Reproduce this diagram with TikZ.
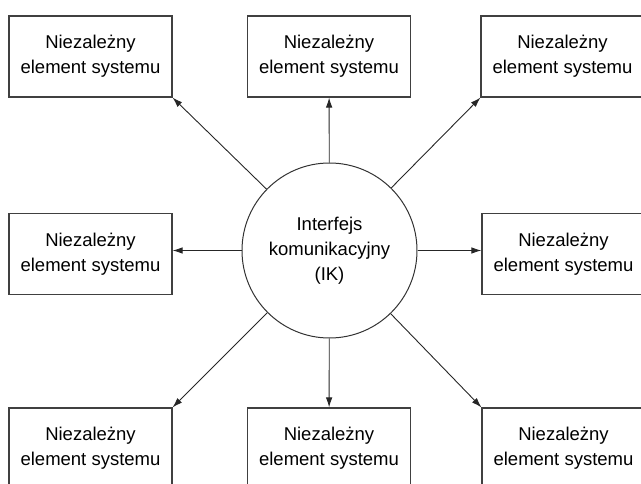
\documentclass[tikz,border=0pt]{standalone}
\usepackage{fontspec}
\setmainfont{Liberation Sans}
\usetikzlibrary{arrows.meta}
\tikzset{
    element/.style={draw=black!75, line width=1.1pt, minimum width=163pt, minimum height=81pt,
        align=center, font=\fontsize{18.5}{25}\selectfont},
    iface/.style={draw=black!80, line width=1pt, circle, minimum size=175pt, inner sep=0pt,
        align=center, font=\fontsize{18.5}{25}\selectfont},
    link/.style={draw=black!85, line width=0.9pt, -{Latex[length=10pt, width=6.5pt]}}
}
\begin{document}
\begin{tikzpicture}[x=1pt, y=-1pt]
        \useasboundingbox (0, 0) rectangle (641, 484);
        \node[iface] (ik) at (329.5, 250.5) {Interfejs\\komunikacyjny\\(IK)};
        \node[element] (tl) at (90.5, 56.5) {Niezależny\\element systemu};
        \node[element] (tm) at (329, 56.5) {Niezależny\\element systemu};
        \node[element] (tr) at (562.5, 56.5) {Niezależny\\element systemu};
        \node[element] (ml) at (90.5, 254) {Niezależny\\element systemu};
        \node[element] (mr) at (563.5, 254) {Niezależny\\element systemu};
        \node[element] (bl) at (90.5, 448.5) {Niezależny\\element systemu};
        \node[element] (bm) at (329, 448.5) {Niezależny\\element systemu};
        \node[element] (br) at (563.5, 448.5) {Niezależny\\element systemu};
        \draw[link] (ik) -- (tl.south east);
        \draw[link] (ik) -- (tm);
        \draw[link] (ik) -- (tr.south west);
        \draw[link] (ik.west) -- (ml.east |- ik.west);
        \draw[link] (ik.east) -- (mr.west |- ik.east);
        \draw[link] (ik) -- (bl.north east);
        \draw[link] (ik) -- (bm);
        \draw[link] (ik) -- (br.north west);
    \end{tikzpicture}
\end{document}
